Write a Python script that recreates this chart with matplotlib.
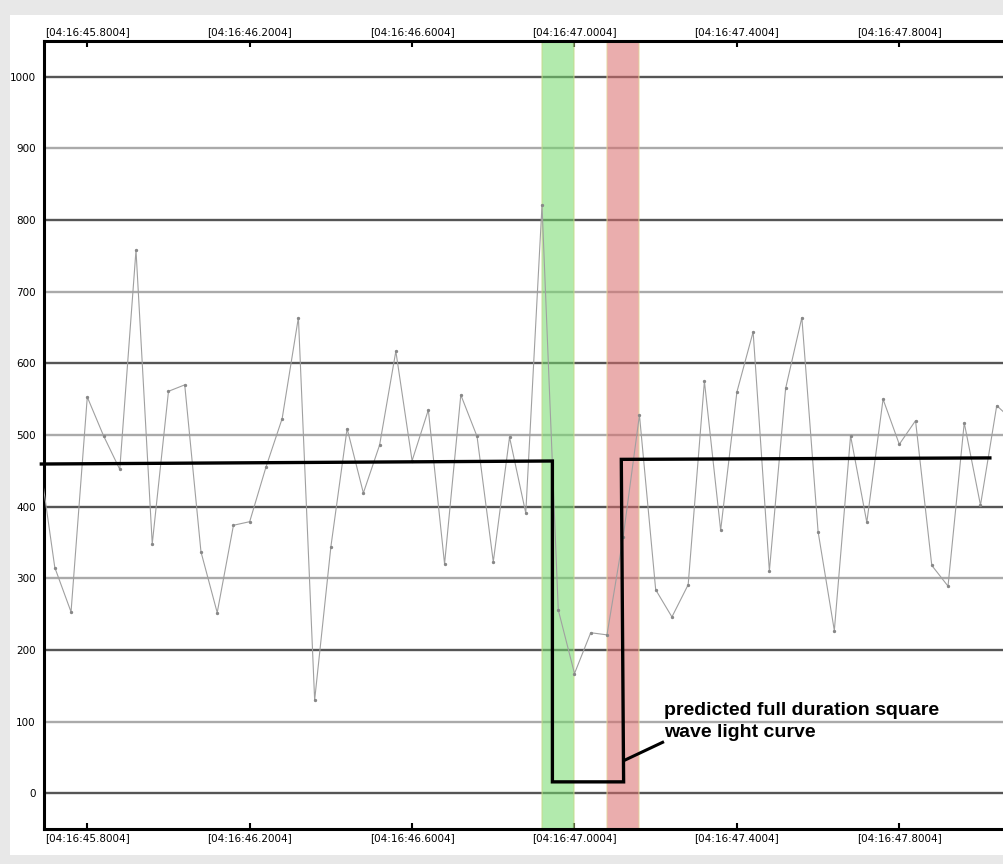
import matplotlib.pyplot as plt
from matplotlib.patches import Rectangle

# sample times are 40 ms apart, index 0 sits on the first labelled tick
T0 = 45.8004
STEP = 0.04
sample_index = list(range(-3, 58))
counts = [
    475, 315, 253, 553, 499, 452, 758, 348, 561, 570,
    337, 252, 374, 379, 455, 523, 664, 130, 344, 509,
    419, 486, 617, 464, 535, 320, 556, 498, 323, 497,
    391, 821, 256, 167, 224, 221, 358, 528, 284, 246,
    291, 575, 367, 560, 644, 310, 565, 664, 365, 227,
    499, 378, 550, 487, 520, 318, 289, 517, 402, 541,
    520,
]
times = [T0 + k * STEP for k in sample_index]

# hand drawn square wave prediction
wave_t = [45.6872, 46.9460, 46.9460, 47.1214, 47.1157, 48.0235]
wave_v = [459.5, 463.7, 15.8, 15.8, 466.0, 468.0]

# highlighted time windows (D and R)
green_span = (46.9204, 47.0004)
red_span = (47.0804, 47.1604)

xtick_pos = [45.8004, 46.2004, 46.6004, 47.0004, 47.4004, 47.8004]
xtick_labels = ["[04:16:45.8004]", "[04:16:46.2004]", "[04:16:46.6004]",
                "[04:16:47.0004]", "[04:16:47.4004]", "[04:16:47.8004]"]
ymajor = [0, 200, 400, 600, 800, 1000]
yminor = [100, 300, 500, 700, 900]

note_text = "predicted full duration square\nwave light curve"
note_xy = (47.2198, 127)
pointer_t = [47.2174, 47.1239]
pointer_v = [71, 46]

fig = plt.figure(figsize=(10.04, 8.64), dpi=100, facecolor="#e8e8e8")
fig.patches.append(Rectangle((10 / 1004, 9 / 864), 1 - 10 / 1004, 840 / 864,
                             transform=fig.transFigure, facecolor="white",
                             edgecolor="none", zorder=-5))
ax = fig.add_axes([44 / 1004, 35 / 864, 960 / 1004, 788 / 864])
ax.set_facecolor("white")

ax.set_xlim(45.6938, 48.0583)
ax.set_ylim(-50, 1050)

ax.set_yticks(ymajor, [str(v) for v in ymajor])
ax.set_yticks(yminor, [str(v) for v in yminor], minor=True)
ax.yaxis.grid(True, which="major", color="#555555", linewidth=1.7, zorder=1)
ax.yaxis.grid(True, which="minor", color="#aaaaaa", linewidth=1.7, zorder=1)
ax.set_axisbelow(True)
ax.tick_params(axis="y", which="both", length=0, pad=6, labelsize=7.5)

ax.set_xticks(xtick_pos, xtick_labels)
ax.tick_params(axis="x", which="major", direction="in", length=4, width=1.5,
               top=True, labeltop=True, bottom=True, labelbottom=True,
               labelsize=7.5, pad=3, color="black")

for side in ["left", "top", "bottom"]:
    ax.spines[side].set_linewidth(2.2)
    ax.spines[side].set_color("black")
ax.spines["right"].set_visible(False)

ax.axvspan(*green_span, facecolor=(0.45, 0.85, 0.42), alpha=0.55,
           edgecolor="#c6d98a", linewidth=1.2, zorder=2)
ax.axvspan(*red_span, facecolor=(0.85, 0.42, 0.42), alpha=0.55,
           edgecolor="#e4d49a", linewidth=1.2, zorder=2)

ax.plot(times, counts, color="#a0a0a0", linewidth=0.8, marker="o",
        markersize=1.4, markerfacecolor="#888888", markeredgecolor="#888888",
        zorder=3)

ax.plot(wave_t, wave_v, color="black", linewidth=2.4, zorder=4,
        solid_joinstyle="miter", clip_on=False)
ax.plot(pointer_t, pointer_v, color="black", linewidth=2.2, zorder=4)
ax.text(note_xy[0], note_xy[1], note_text, ha="left", va="top",
        fontsize=14, fontweight="bold", family="Liberation Sans",
        linespacing=1.4, zorder=5)

plt.savefig("out.png", dpi=100, facecolor=fig.get_facecolor())
